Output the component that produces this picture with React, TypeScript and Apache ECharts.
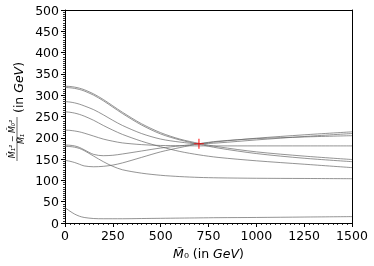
import React, { useEffect, useRef } from 'react';
import * as echarts from 'echarts';

const xs = [0, 25, 50, 75, 100, 150, 200, 250, 300, 400, 500, 600, 700, 800, 1000, 1250, 1500];
const curveA = [321, 320.5, 319, 316.5, 313, 303, 290, 275, 260, 233, 212, 197, 187, 179, 167, 157, 149];
const curveB = [318, 317.5, 316, 313.5, 310, 300, 287, 272, 257, 230, 209, 195, 185, 176, 163, 152, 144];
const curveC = [285, 284, 282, 279, 275, 266, 254, 241, 229, 210, 197, 190, 186, 188, 195, 203, 210];
const curveD = [261, 260, 258, 255, 251, 241, 229, 218, 208, 192, 179, 168, 160, 154, 146, 138, 130];
const curveE = [218, 217.5, 216, 214, 211, 204, 197, 192, 188, 184, 182, 181.5, 181, 181, 181, 181, 181];
const curveF = [183, 182.5, 181, 177.5, 172, 161, 158, 159, 162, 169, 176, 181, 186, 191, 199, 207, 214];
const curveG = [180, 179.5, 178, 175, 170, 157, 144, 133, 125, 117, 112, 109, 107, 106, 105, 104.5, 104];
const curveH = [147, 145, 142, 138, 134, 132, 133, 136, 141, 154, 167, 177, 186, 192, 198, 202, 205];
const curveI = [36, 28, 21, 16, 13, 10.5, 10, 10, 10, 10.5, 11, 11.5, 12, 12.5, 13, 14, 15];
const curves = [curveA, curveB, curveC, curveD, curveE, curveF, curveG, curveH, curveI];
const truePoint = [[700, 186]];

const FONT = 'DejaVu Sans';

export default function App() {
  const ref = useRef<HTMLDivElement>(null);
  useEffect(() => {
    document.body.style.margin = '0';
    const chart = echarts.init(ref.current!, null, { renderer: 'svg' });
    const axisCommon = {
      axisLine: { show: true, lineStyle: { color: '#000', width: 1 } },
      axisTick: { show: true, length: 4, lineStyle: { color: '#000', width: 1 } },
      minorTick: { show: true, splitNumber: 10, length: 2, lineStyle: { color: '#000', width: 0.8 } },
      splitLine: { show: false },
      axisLabel: { color: '#000', fontSize: 12.5, fontFamily: FONT, margin: 6, formatter: (v: number) => String(v) },
    };
    const frameCommon = {
      axisLine: { show: true, onZero: false, lineStyle: { color: '#000', width: 1 } },
      axisTick: { show: false },
      minorTick: { show: false },
      axisLabel: { show: false },
      splitLine: { show: false },
    };
    chart.setOption({
      animation: false,
      grid: { left: 65, right: 22, top: 10, bottom: 43 },
      xAxis: [
        {
          type: 'value', min: 0, max: 1500, interval: 250, position: 'bottom',
          ...axisCommon,
          name: '{m|M̃}{s|₀}{r| (in }{i|GeV}{r|)}',
          nameLocation: 'middle', nameGap: 24,
          nameTextStyle: {
            rich: {
              m: { fontFamily: FONT, fontSize: 12.5, fontStyle: 'italic', color: '#000' },
              s: { fontFamily: FONT, fontSize: 12.5, color: '#000' },
              r: { fontFamily: FONT, fontSize: 12.5, color: '#000' },
              i: { fontFamily: FONT, fontSize: 12.5, fontStyle: 'italic', color: '#000' },
            },
          },
        },
        { type: 'value', min: 0, max: 1500, interval: 250, position: 'top', ...frameCommon },
      ],
      yAxis: [
        { type: 'value', min: 0, max: 500, interval: 50, position: 'left', ...axisCommon },
        { type: 'value', min: 0, max: 500, interval: 50, position: 'right', ...frameCommon },
      ],
      graphic: [
        {
          type: 'group', x: 17, y: 117, rotation: Math.PI / 2,
          children: [
            { type: 'text', x: -22, y: -5, style: { text: 'M̃₁² − M̃₀²', font: 'italic 8px DejaVu Sans', fill: '#000', align: 'center', verticalAlign: 'middle' } },
            { type: 'line', shape: { x1: -44, y1: 0, x2: 0, y2: 0 }, style: { stroke: '#000', lineWidth: 0.6 } },
            { type: 'text', x: -22, y: 4.5, style: { text: 'M̃₁', font: 'italic 8px DejaVu Sans', fill: '#000', align: 'center', verticalAlign: 'middle' } },
            {
              type: 'text', x: 4, y: 1,
              style: {
                text: '{r|(in }{i|GeV}{r|)}', align: 'left', verticalAlign: 'middle',
                rich: {
                  r: { fontFamily: FONT, fontSize: 12.5, fill: '#000' },
                  i: { fontFamily: FONT, fontSize: 12.5, fontStyle: 'italic', fill: '#000' },
                },
              },
            },
          ],
        },
      ],
      series: [
        ...curves.map((c) => ({
          type: 'line',
          xAxisIndex: 0,
          yAxisIndex: 0,
          data: xs.map((x, i) => [x, c[i]]),
          showSymbol: false,
          smooth: 0.3,
          lineStyle: { color: '#666', width: 0.7 },
          silent: true,
        })),
        {
          type: 'scatter',
          xAxisIndex: 0,
          yAxisIndex: 0,
          data: truePoint,
          symbol: 'path://M4.4,0h1.2v4.4h4.4v1.2h-4.4v4.4h-1.2v-4.4h-4.4v-1.2h4.4z',
          symbolSize: 10,
          itemStyle: { color: '#ff0000' },
          z: 10,
        },
      ],
    });
    return () => chart.dispose();
  }, []);
  return <div ref={ref} style={{ position: 'fixed', left: 0, top: 0, width: 374, height: 266 }} />;
}
